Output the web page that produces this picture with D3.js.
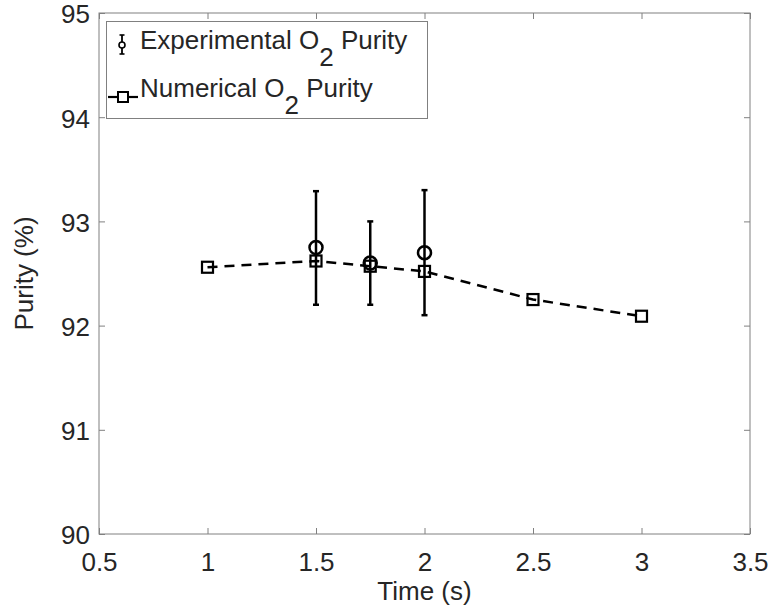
<!DOCTYPE html>
<html>
<head>
<meta charset="utf-8">
<script src="https://cdn.jsdelivr.net/npm/d3@7"></script>
<style>
  body { margin: 0; background: #fff; }
  text { font-family: "Liberation Sans", Arial, sans-serif; fill: #262626; }
</style>
</head>
<body>
<svg id="chart" width="771" height="610"></svg>
<script>
// numerical series
var numTime = [1, 1.5, 1.75, 2, 2.5, 3];
var numPurity = [92.56, 92.62, 92.57, 92.52, 92.25, 92.09];
// experimental series with error bars
var expTime = [1.5, 1.75, 2];
var expPurity = [92.75, 92.6, 92.7];
var expLow = [92.2, 92.2, 92.1];
var expHigh = [93.29, 93.0, 93.3];
var xTicks = [0.5, 1, 1.5, 2, 2.5, 3, 3.5];
var yTicks = [90, 91, 92, 93, 94, 95];

var margin = { top: 13, right: 21, bottom: 76, left: 99 },
    w = 771 - margin.left - margin.right,
    h = 610 - margin.top - margin.bottom;

var fs = 26;

const svg = d3.select("#chart");
const g = svg.append("g").attr("transform", "translate(" + margin.left + "," + margin.top + ")");

const x = d3.scaleLinear().domain([0.5, 3.5]).range([0, w]);
const y = d3.scaleLinear().domain([90, 95]).range([h, 0]);

var axisCol = "#808080";

// frame
g.append("rect").attr("width", w).attr("height", h)
 .attr("fill", "none").attr("stroke", axisCol).attr("stroke-width", 1);

// bottom axis with inward ticks
const xAxis = d3.axisBottom(x).tickValues(xTicks).tickSize(-6).tickPadding(19)
                .tickFormat(d3.format("~g"));
const gx = g.append("g").attr("transform", "translate(0," + h + ")").call(xAxis);
gx.select(".domain").remove();
gx.selectAll("line").attr("stroke", axisCol);
gx.selectAll("text").attr("font-size", fs).attr("fill", "#262626");

const gxt = g.append("g").call(d3.axisTop(x).tickValues(xTicks).tickSize(-6).tickFormat(""));
gxt.select(".domain").remove();
gxt.selectAll("line").attr("stroke", axisCol);

const yAxis = d3.axisLeft(y).tickValues(yTicks).tickSize(-6).tickPadding(9)
                .tickFormat(d3.format("~g"));
const gy = g.append("g").call(yAxis);
gy.select(".domain").remove();
gy.selectAll("line").attr("stroke", axisCol);
gy.selectAll("text").attr("font-size", fs).attr("fill", "#262626").attr("dy", "0.38em");

const gyr = g.append("g").attr("transform", "translate(" + w + ",0)")
             .call(d3.axisRight(y).tickValues(yTicks).tickSize(-6).tickFormat(""));
gyr.select(".domain").remove();
gyr.selectAll("line").attr("stroke", axisCol);

// axis titles
svg.append("text").attr("x", margin.left + w / 2).attr("y", 600)
   .attr("text-anchor", "middle").attr("font-size", fs).text("Time (s)");
svg.append("text").attr("transform", "translate(33," + (margin.top + h / 2) + ") rotate(-90)")
   .attr("text-anchor", "middle").attr("font-size", fs).text("Purity (%)");

// numerical line
const line = d3.line().x(function(d, i) { return x(numTime[i]); }).y(function(d) { return y(d); });
g.append("path").datum(numPurity).attr("d", line)
 .attr("fill", "none").attr("stroke", "#000").attr("stroke-width", 2.5)
 .attr("stroke-dasharray", "10,7");

// error bars
var cap = 3;
expTime.forEach(function(t, i) {
  var cx = x(t);
  g.append("line").attr("x1", cx).attr("x2", cx).attr("y1", y(expLow[i])).attr("y2", y(expHigh[i]))
   .attr("stroke", "#000").attr("stroke-width", 2.5);
  [expLow[i], expHigh[i]].forEach(function(v) {
    g.append("line").attr("x1", cx - cap).attr("x2", cx + cap).attr("y1", y(v)).attr("y2", y(v))
     .attr("stroke", "#000").attr("stroke-width", 2.5);
  });
});
g.selectAll("circle.exp").data(expPurity).enter().append("circle")
 .attr("class", "exp")
 .attr("cx", function(d, i) { return x(expTime[i]); })
 .attr("cy", function(d) { return y(d); })
 .attr("r", 6.5).attr("fill", "none").attr("stroke", "#000").attr("stroke-width", 2.5);

// squares
var sq = 11;
g.selectAll("rect.num").data(numPurity).enter().append("rect")
 .attr("class", "num")
 .attr("x", function(d, i) { return x(numTime[i]) - sq / 2; })
 .attr("y", function(d) { return y(d) - sq / 2; })
 .attr("width", sq).attr("height", sq)
 .attr("fill", "none").attr("stroke", "#000").attr("stroke-width", 2.2);

// legend
var lg = svg.append("g");
lg.append("rect").attr("x", 106.5).attr("y", 21.5).attr("width", 321).attr("height", 97)
  .attr("fill", "#fff").attr("stroke", axisCol).attr("stroke-width", 1);
// errorbar icon
lg.append("line").attr("x1", 122).attr("x2", 122).attr("y1", 35).attr("y2", 54).attr("stroke", "#000").attr("stroke-width", 1.8);
lg.append("line").attr("x1", 119.5).attr("x2", 124.5).attr("y1", 35).attr("y2", 35).attr("stroke", "#000").attr("stroke-width", 1.6);
lg.append("line").attr("x1", 119.5).attr("x2", 124.5).attr("y1", 54).attr("y2", 54).attr("stroke", "#000").attr("stroke-width", 1.6);
lg.append("circle").attr("cx", 122).attr("cy", 45).attr("r", 3).attr("fill", "#fff").attr("stroke", "#000").attr("stroke-width", 1.6);
// line icon
lg.append("line").attr("x1", 108).attr("x2", 138).attr("y1", 97).attr("y2", 97).attr("stroke", "#000").attr("stroke-width", 2.2);
lg.append("rect").attr("x", 118).attr("y", 92).attr("width", 10).attr("height", 10).attr("fill", "#fff").attr("stroke", "#000").attr("stroke-width", 2);

function legendText(yy, pre) {
  var t = lg.append("text").attr("x", 140).attr("y", yy).attr("font-size", fs).attr("fill", "#000");
  t.append("tspan").text(pre + " O");
  t.append("tspan").attr("dy", 17).text("2");
  t.append("tspan").attr("dy", -17).text(" Purity");
}
legendText(49, "Experimental");
legendText(97, "Numerical");
</script>
</body>
</html>
